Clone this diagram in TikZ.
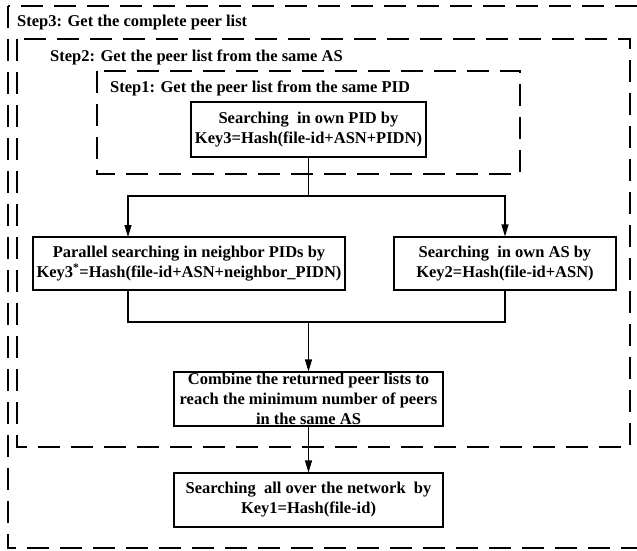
\documentclass[tikz,border=0pt]{standalone}
\usepackage{fontspec}
\setmainfont{Liberation Serif}
\usetikzlibrary{arrows.meta}

\begin{document}
\begin{tikzpicture}[
        x=1pt, y=-1pt,
        font=\fontsize{16.5}{20}\selectfont\bfseries,
        stepbox/.style={draw, line width=1.4pt, dash pattern=on 22pt off 11pt},
        steplabel/.style={anchor=west, inner sep=0pt},
        searchbox/.style={draw, line width=1.1pt, align=center, inner xsep=0pt, inner ysep=0pt},
        flow/.style={line width=1.1pt},
        flowarrow/.style={flow, -{Triangle[length=12pt, width=7pt]}}
    ]
        \useasboundingbox (0,0) rectangle (637,550);
        \clip (0,0) rectangle (637,550);

        % --- Marcos de los pasos ---
        \draw[stepbox] (8,6) rectangle (655,548);
        \node[steplabel] (step3) at (17,23) {Step3: Get the complete peer list};

        \draw[stepbox] (17,39) rectangle (630,447);
        \node[steplabel] (step2) at (50,57) {Step2: Get the peer list from the same AS};

        \draw[stepbox] (97,71) rectangle (520,174);
        \node[steplabel] (step1) at (110,88) {Step1: Get the peer list from the same PID};

        % --- Cajas de busqueda ---
        \node[searchbox, minimum width=235pt, minimum height=55pt] (pid) at (308.5,129.5)
            {Searching\ \ in own PID by\\Key3=Hash(file-id+ASN+PIDN)};
        \node[searchbox, minimum width=312pt, minimum height=53pt] (neighbor) at (189,263.5)
            {Parallel searching in neighbor PIDs by\\Key3\textsuperscript{*}=Hash(file-id+ASN+neighbor\_PIDN)};
        \node[searchbox, minimum width=222pt, minimum height=53pt] (ownas) at (505,263.5)
            {Searching\ \ in own AS by\\Key2=Hash(file-id+ASN)};
        \node[searchbox, minimum width=269pt, minimum height=54pt] (combine) at (308.5,399)
            {Combine the returned peer lists to\\reach the minimum number of peers\\in the same AS};
        \node[searchbox, minimum width=269pt, minimum height=54pt] (network) at (308.5,500)
            {Searching\ \ all over the network\ \ by\\Key1=Hash(file-id)};

        % --- Conexiones ---
        \coordinate (split) at (308.5,196);
        \coordinate (leftin) at (128,237);
        \coordinate (leftout) at (128,290);
        \coordinate (merge) at (308.5,322);

        \draw[flow] (pid) -- (split);
        \draw[flowarrow] (split) -| (leftin);
        \draw[flowarrow] (split) -| (ownas.north);
        \draw[flow] (leftout) |- (merge);
        \draw[flow] (ownas.south) |- (merge);
        \draw[flowarrow] (merge) -- (combine);
        \draw[flowarrow] (combine) -- (network);
    \end{tikzpicture}
\end{document}
